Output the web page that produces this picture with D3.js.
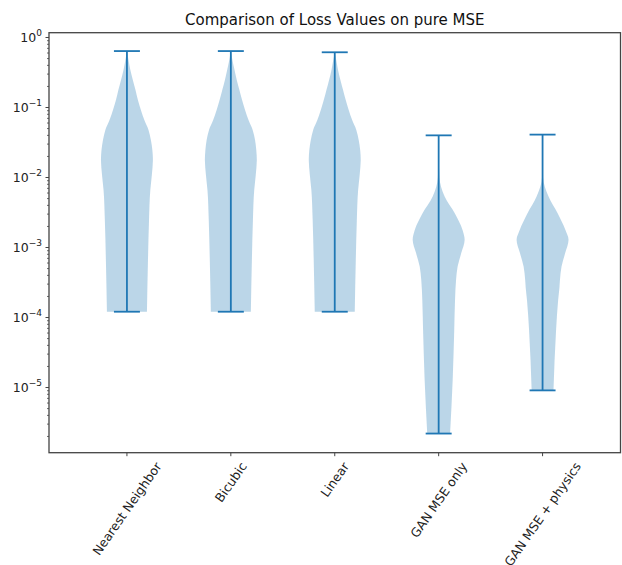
<!DOCTYPE html>
<html>
<head>
<meta charset="utf-8">
<script src="https://d3js.org/d3.v7.min.js"></script>
<style>
  body { margin: 0; background: #fff; }
  text { font-family: "DejaVu Sans", sans-serif; }
</style>
</head>
<body>
<div id="chart"></div>
<script>
// categories along the x axis
var categories = ["Nearest Neighbor", "Bicubic", "Linear", "GAN MSE only", "GAN MSE + physics"];

// extrema of each distribution
var maxLoss = [0.64, 0.64, 0.615, 0.040, 0.041];
var minLoss = [1.21e-4, 1.21e-4, 1.21e-4, 2.2e-6, 9.1e-6];

// violin outlines: [log10(loss), relative density]
var nnDensity = [[-0.194, 0], [-0.32, 0.06], [-0.46, 0.13], [-0.61, 0.23], [-0.75, 0.33], [-0.89, 0.42],
  [-1.04, 0.54], [-1.18, 0.67], [-1.32, 0.83], [-1.46, 0.92], [-1.61, 0.98], [-1.75, 1.0],
  [-1.96, 0.96], [-2.18, 0.9], [-2.61, 0.85], [-3.18, 0.81], [-3.917, 0.77]];
var bicubicDensity = [[-0.194, 0], [-0.32, 0.06], [-0.46, 0.14], [-0.61, 0.23], [-0.75, 0.33], [-0.89, 0.43],
  [-1.04, 0.55], [-1.18, 0.68], [-1.32, 0.84], [-1.46, 0.93], [-1.61, 0.98], [-1.75, 1.0],
  [-1.96, 0.96], [-2.18, 0.9], [-2.61, 0.85], [-3.18, 0.81], [-3.917, 0.77]];
var linearDensity = [[-0.211, 0], [-0.33, 0.06], [-0.47, 0.13], [-0.61, 0.22], [-0.75, 0.32], [-0.89, 0.42],
  [-1.04, 0.54], [-1.18, 0.67], [-1.32, 0.83], [-1.46, 0.92], [-1.61, 0.98], [-1.75, 1.0],
  [-1.96, 0.96], [-2.18, 0.9], [-2.61, 0.85], [-3.18, 0.81], [-3.917, 0.77]];
var ganDensity = [[-1.398, 0], [-1.7, 0.005], [-2.0, 0.03], [-2.27, 0.23], [-2.51, 0.62], [-2.75, 0.92],
  [-2.89, 1.0], [-3.08, 0.87], [-3.27, 0.73], [-3.46, 0.67], [-3.75, 0.63], [-4.18, 0.6],
  [-4.89, 0.54], [-5.658, 0.44]];
var ganPhysDensity = [[-1.387, 0], [-1.7, 0.005], [-2.0, 0.02], [-2.27, 0.23], [-2.51, 0.58], [-2.75, 0.88],
  [-2.89, 1.0], [-3.08, 0.87], [-3.27, 0.73], [-3.46, 0.67], [-3.57, 0.65], [-3.75, 0.6],
  [-4.18, 0.52], [-5.041, 0.42]];
var densities = [nnDensity, bicubicDensity, linearDensity, ganDensity, ganPhysDensity];

// y axis decades
var yMajor = [1e-5, 1e-4, 1e-3, 1e-2, 1e-1, 1];
var yExponents = ["\u22125", "\u22124", "\u22123", "\u22122", "\u22121", "0"];

var title = "Comparison of Loss Values on pure MSE";

(function() {
  var width = 622, height = 565;
  var margin = {left: 49, top: 32.7, right: 1.5, bottom: 112.3};

  var svg = d3.select("#chart").append("svg")
    .attr("width", width)
    .attr("height", height);

  var x = d3.scaleLinear().domain([0.25, 5.75]).range([margin.left, width - margin.right]);
  var y = d3.scaleLog().domain([1.172e-6, 1.171]).range([height - margin.bottom, margin.top]);
  var halfW = d3.scaleLinear().domain([0, 1]).range([0, x(1.25) - x(1)]);

  var blue = "#1f77b4";

  // violins
  var area = d3.area()
    .curve(d3.curveMonotoneY)
    .y(function(d) { return y(Math.pow(10, d[0])); });

  densities.forEach(function(prof, i) {
    var cx = x(i + 1);
    svg.append("path")
      .datum(prof)
      .attr("d", area.x0(function(d) { return cx - halfW(d[1]); })
                     .x1(function(d) { return cx + halfW(d[1]); }))
      .attr("fill", blue)
      .attr("fill-opacity", 0.3);
  });

  // bars and caps
  var g = svg.append("g").attr("stroke", blue).attr("stroke-width", 1.8);
  categories.forEach(function(c, i) {
    var cx = x(i + 1), cap = x(1.125) - x(1);
    g.append("line").attr("x1", cx).attr("x2", cx).attr("y1", y(maxLoss[i])).attr("y2", y(minLoss[i]));
    g.append("line").attr("x1", cx - cap).attr("x2", cx + cap).attr("y1", y(maxLoss[i])).attr("y2", y(maxLoss[i]));
    g.append("line").attr("x1", cx - cap).attr("x2", cx + cap).attr("y1", y(minLoss[i])).attr("y2", y(minLoss[i]));
  });

  // frame
  svg.append("rect")
    .attr("x", margin.left).attr("y", margin.top)
    .attr("width", x.range()[1] - margin.left)
    .attr("height", y.range()[0] - margin.top)
    .attr("fill", "none").attr("stroke", "#444").attr("stroke-width", 1.3);

  // y ticks, major and minor
  var minor = [];
  for (var e = -6; e <= 0; e++) {
    for (var m = 2; m <= 9; m++) {
      var v = m * Math.pow(10, e);
      if (v > y.domain()[0] && v < y.domain()[1]) minor.push(v);
    }
  }
  svg.selectAll(".minor").data(minor).enter().append("line")
    .attr("x1", margin.left - 2).attr("x2", margin.left)
    .attr("y1", function(d) { return y(d); }).attr("y2", function(d) { return y(d); })
    .attr("stroke", "#444").attr("stroke-width", 0.8);
  svg.selectAll(".major").data(yMajor).enter().append("line")
    .attr("x1", margin.left - 3.5).attr("x2", margin.left)
    .attr("y1", function(d) { return y(d); }).attr("y2", function(d) { return y(d); })
    .attr("stroke", "#444").attr("stroke-width", 1);

  var lab = svg.selectAll(".ylab").data(yMajor).enter().append("text")
    .attr("x", margin.left - 7)
    .attr("y", function(d) { return y(d) + 4.5; })
    .attr("text-anchor", "end")
    .attr("font-size", 12.5)
    .attr("fill", "#222");
  lab.append("tspan").text("10");
  lab.append("tspan").attr("dy", -6).attr("font-size", 9).text(function(d, i) { return yExponents[i]; });

  // x ticks and rotated labels
  var base = y.range()[0];
  var angle = 55, rad = angle * Math.PI / 180, fs = 12.5;
  categories.forEach(function(c, i) {
    var cx = x(i + 1);
    svg.append("line").attr("x1", cx).attr("x2", cx).attr("y1", base).attr("y2", base + 3.5)
      .attr("stroke", "#444").attr("stroke-width", 1);
    var t = svg.append("text")
      .attr("font-size", fs)
      .attr("fill", "#222")
      .attr("text-anchor", "middle")
      .attr("dominant-baseline", "central")
      .text(c);
    var L = t.node().getComputedTextLength();
    var h = fs * 1.1;
    var bh = L * Math.sin(rad) + h * Math.cos(rad);
    var cy = base + 7 + bh / 2;
    t.attr("transform", "translate(" + cx + "," + cy + ") rotate(" + (-angle) + ")");
  });

  // title
  svg.append("text")
    .attr("x", (margin.left + x.range()[1]) / 2)
    .attr("y", 25)
    .attr("text-anchor", "middle")
    .attr("font-size", 15)
    .attr("fill", "#111")
    .text(title);
})();
</script>
</body>
</html>
